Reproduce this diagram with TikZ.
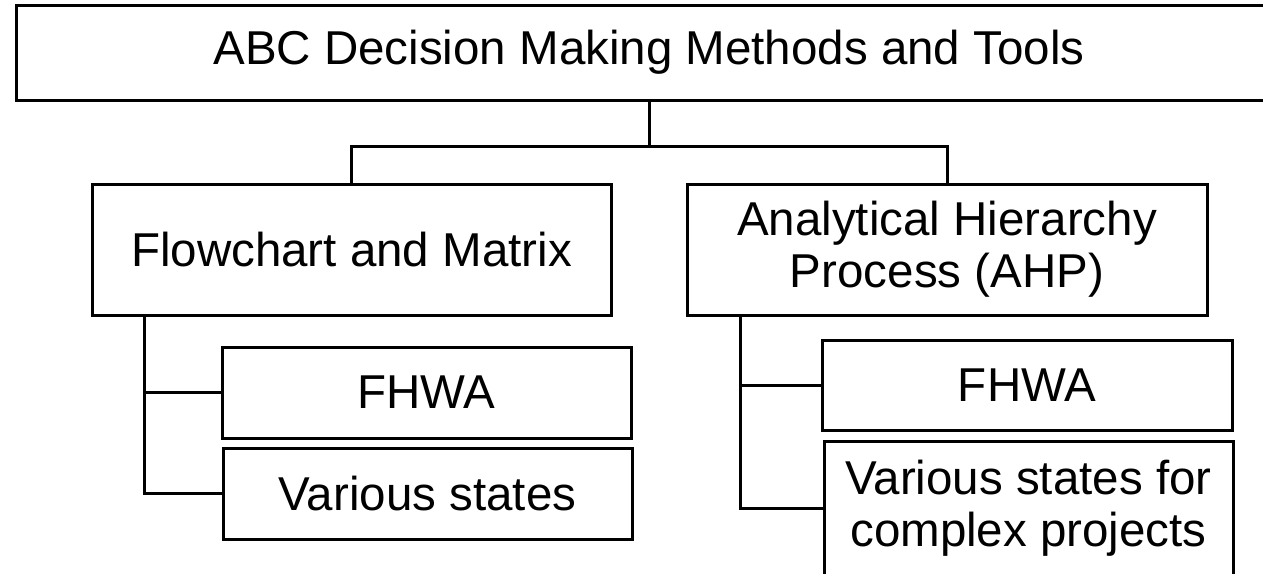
\documentclass[tikz,border=0pt]{standalone}
\usepackage{fontspec}
\setmainfont{Liberation Sans}
\begin{document}
\begin{tikzpicture}[x=1pt,y=-1pt,
  box/.style={draw=black, line width=3pt, rectangle, inner sep=0pt, outer sep=0pt,
    align=center, font=\fontsize{47.5}{52}\selectfont, fill=white},
  conn/.style={draw=black, line width=3pt}]
\useasboundingbox (0,0) rectangle (1263,573);
\node[box, minimum width=1266pt, minimum height=95pt] (top) at (649,52.5) {ABC Decision Making Methods and Tools};
\node[box, minimum width=519pt, minimum height=131pt] (fm) at (351.5,249.5) {Flowchart and Matrix};
\node[box, minimum width=520pt, minimum height=131pt] (ahp) at (947,249.5) {Analytical Hierarchy\\Process (AHP)};
\node[box, minimum width=409pt, minimum height=91pt] (f1) at (426.5,392.5) {FHWA};
\node[box, minimum width=409pt, minimum height=91pt] (v1) at (427.5,493.5) {Various states};
\node[box, minimum width=410pt, minimum height=90pt] (f2) at (1027,385) {FHWA};
\node[box, minimum width=409pt, minimum height=134pt] (v2) at (1028.5,508) {Various states for\\complex projects};
\coordinate (j) at (649,146);
\coordinate (lt) at (144,315);
\coordinate (rt) at (740,315);
\draw[conn] (top.south) -- (j);
\draw[conn] (fm.north) |- (j) -| (ahp.north);
\draw[conn] (lt) |- (f1.west);
\draw[conn] (lt) |- (v1.west);
\draw[conn] (rt) |- (f2.west);
\draw[conn] (rt) |- (v2.west);
\end{tikzpicture}
\end{document}
